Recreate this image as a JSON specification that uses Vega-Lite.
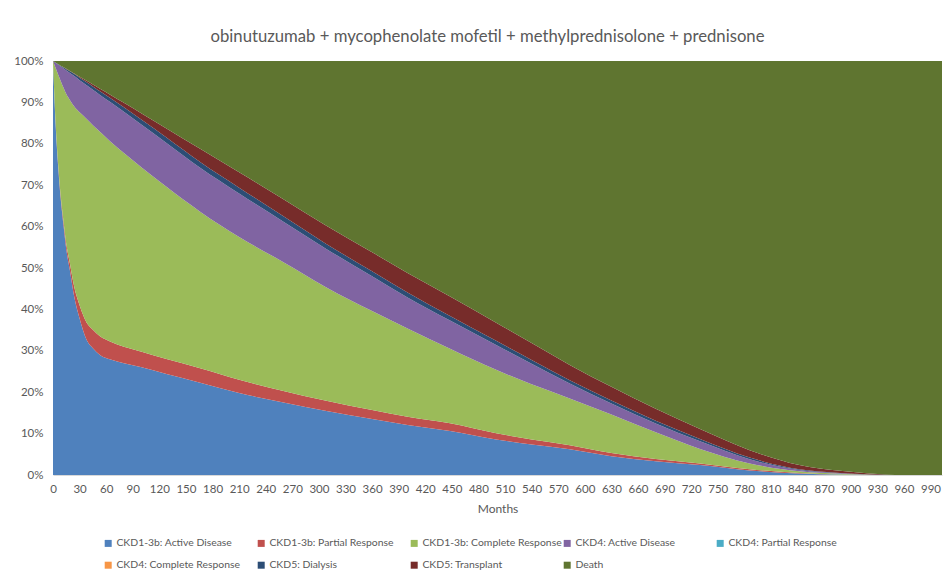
{
  "$schema": "https://vega.github.io/schema/vega-lite/v6.json",
  "width": 889,
  "height": 414,
  "autosize": "none",
  "padding": {"left": 53, "top": 61, "right": 10, "bottom": 99},
  "background": "white",
  "title": {
    "text": "obinutuzumab + mycophenolate mofetil + methylprednisolone + prednisone",
    "font": "Lato",
    "fontSize": 16.7,
    "fontWeight": "normal",
    "color": "#595959",
    "anchor": "middle",
    "dx": -10,
    "offset": 9
  },
  "config": {
    "view": {"stroke": null},
    "axis": {
      "labelFont": "Lato",
      "labelFontSize": 11.5,
      "labelColor": "#595959",
      "titleFont": "Lato",
      "titleFontSize": 12,
      "titleFontWeight": "normal",
      "titleColor": "#595959",
      "grid": false,
      "ticks": false
    },
    "legend": {
      "labelFont": "Lato",
      "labelFontSize": 10.4,
      "labelColor": "#595959"
    }
  },
  "data": {
    "values": [
      {"month": 0, "state": "CKD1-3b: Active Disease", "share": 100},
      {"month": 0, "state": "CKD1-3b: Partial Response", "share": 0},
      {"month": 0, "state": "CKD1-3b: Complete Response", "share": 0},
      {"month": 0, "state": "CKD4: Active Disease", "share": 0},
      {"month": 0, "state": "CKD4: Partial Response", "share": 0},
      {"month": 0, "state": "CKD4: Complete Response", "share": 0},
      {"month": 0, "state": "CKD5: Dialysis", "share": 0},
      {"month": 0, "state": "CKD5: Transplant", "share": 0},
      {"month": 0, "state": "Death", "share": 0},

      {"month": 3, "state": "CKD1-3b: Active Disease", "share": 84.5},
      {"month": 3, "state": "CKD1-3b: Partial Response", "share": 0.3},
      {"month": 3, "state": "CKD1-3b: Complete Response", "share": 13.5},
      {"month": 3, "state": "CKD4: Active Disease", "share": 1.25},
      {"month": 3, "state": "CKD4: Partial Response", "share": 0},
      {"month": 3, "state": "CKD4: Complete Response", "share": 0},
      {"month": 3, "state": "CKD5: Dialysis", "share": 0.05},
      {"month": 3, "state": "CKD5: Transplant", "share": 0},
      {"month": 3, "state": "Death", "share": 0.4},

      {"month": 6, "state": "CKD1-3b: Active Disease", "share": 74},
      {"month": 6, "state": "CKD1-3b: Partial Response", "share": 0.5},
      {"month": 6, "state": "CKD1-3b: Complete Response", "share": 22.1},
      {"month": 6, "state": "CKD4: Active Disease", "share": 2.5},
      {"month": 6, "state": "CKD4: Partial Response", "share": 0},
      {"month": 6, "state": "CKD4: Complete Response", "share": 0},
      {"month": 6, "state": "CKD5: Dialysis", "share": 0.1},
      {"month": 6, "state": "CKD5: Transplant", "share": 0},
      {"month": 6, "state": "Death", "share": 0.8},

      {"month": 9, "state": "CKD1-3b: Active Disease", "share": 66},
      {"month": 9, "state": "CKD1-3b: Partial Response", "share": 0.7},
      {"month": 9, "state": "CKD1-3b: Complete Response", "share": 28.3},
      {"month": 9, "state": "CKD4: Active Disease", "share": 3.6},
      {"month": 9, "state": "CKD4: Partial Response", "share": 0},
      {"month": 9, "state": "CKD4: Complete Response", "share": 0},
      {"month": 9, "state": "CKD5: Dialysis", "share": 0.18},
      {"month": 9, "state": "CKD5: Transplant", "share": 0.02},
      {"month": 9, "state": "Death", "share": 1.2},

      {"month": 12, "state": "CKD1-3b: Active Disease", "share": 60},
      {"month": 12, "state": "CKD1-3b: Partial Response", "share": 1.0},
      {"month": 12, "state": "CKD1-3b: Complete Response", "share": 32.5},
      {"month": 12, "state": "CKD4: Active Disease", "share": 4.7},
      {"month": 12, "state": "CKD4: Partial Response", "share": 0},
      {"month": 12, "state": "CKD4: Complete Response", "share": 0},
      {"month": 12, "state": "CKD5: Dialysis", "share": 0.25},
      {"month": 12, "state": "CKD5: Transplant", "share": 0.05},
      {"month": 12, "state": "Death", "share": 1.5},

      {"month": 15, "state": "CKD1-3b: Active Disease", "share": 54.5},
      {"month": 15, "state": "CKD1-3b: Partial Response", "share": 1.3},
      {"month": 15, "state": "CKD1-3b: Complete Response", "share": 36.2},
      {"month": 15, "state": "CKD4: Active Disease", "share": 5.7},
      {"month": 15, "state": "CKD4: Partial Response", "share": 0},
      {"month": 15, "state": "CKD4: Complete Response", "share": 0},
      {"month": 15, "state": "CKD5: Dialysis", "share": 0.33},
      {"month": 15, "state": "CKD5: Transplant", "share": 0.07},
      {"month": 15, "state": "Death", "share": 1.9},

      {"month": 19, "state": "CKD1-3b: Active Disease", "share": 49.5},
      {"month": 19, "state": "CKD1-3b: Partial Response", "share": 1.7},
      {"month": 19, "state": "CKD1-3b: Complete Response", "share": 39.4},
      {"month": 19, "state": "CKD4: Active Disease", "share": 6.5},
      {"month": 19, "state": "CKD4: Partial Response", "share": 0},
      {"month": 19, "state": "CKD4: Complete Response", "share": 0},
      {"month": 19, "state": "CKD5: Dialysis", "share": 0.4},
      {"month": 19, "state": "CKD5: Transplant", "share": 0.1},
      {"month": 19, "state": "Death", "share": 2.4},

      {"month": 24, "state": "CKD1-3b: Active Disease", "share": 43},
      {"month": 24, "state": "CKD1-3b: Partial Response", "share": 2.4},
      {"month": 24, "state": "CKD1-3b: Complete Response", "share": 43.6},
      {"month": 24, "state": "CKD4: Active Disease", "share": 7.35},
      {"month": 24, "state": "CKD4: Partial Response", "share": 0},
      {"month": 24, "state": "CKD4: Complete Response", "share": 0},
      {"month": 24, "state": "CKD5: Dialysis", "share": 0.5},
      {"month": 24, "state": "CKD5: Transplant", "share": 0.15},
      {"month": 24, "state": "Death", "share": 3.0},

      {"month": 30, "state": "CKD1-3b: Active Disease", "share": 37.8},
      {"month": 30, "state": "CKD1-3b: Partial Response", "share": 3.2},
      {"month": 30, "state": "CKD1-3b: Complete Response", "share": 46.6},
      {"month": 30, "state": "CKD4: Active Disease", "share": 7.75},
      {"month": 30, "state": "CKD4: Partial Response", "share": 0},
      {"month": 30, "state": "CKD4: Complete Response", "share": 0},
      {"month": 30, "state": "CKD5: Dialysis", "share": 0.6},
      {"month": 30, "state": "CKD5: Transplant", "share": 0.25},
      {"month": 30, "state": "Death", "share": 3.8},

      {"month": 38, "state": "CKD1-3b: Active Disease", "share": 32.6},
      {"month": 38, "state": "CKD1-3b: Partial Response", "share": 4.2},
      {"month": 38, "state": "CKD1-3b: Complete Response", "share": 49.2},
      {"month": 38, "state": "CKD4: Active Disease", "share": 8.15},
      {"month": 38, "state": "CKD4: Partial Response", "share": 0},
      {"month": 38, "state": "CKD4: Complete Response", "share": 0},
      {"month": 38, "state": "CKD5: Dialysis", "share": 0.7},
      {"month": 38, "state": "CKD5: Transplant", "share": 0.35},
      {"month": 38, "state": "Death", "share": 4.8},

      {"month": 45, "state": "CKD1-3b: Active Disease", "share": 30.6},
      {"month": 45, "state": "CKD1-3b: Partial Response", "share": 4.5},
      {"month": 45, "state": "CKD1-3b: Complete Response", "share": 49.4},
      {"month": 45, "state": "CKD4: Active Disease", "share": 8.55},
      {"month": 45, "state": "CKD4: Partial Response", "share": 0},
      {"month": 45, "state": "CKD4: Complete Response", "share": 0},
      {"month": 45, "state": "CKD5: Dialysis", "share": 0.8},
      {"month": 45, "state": "CKD5: Transplant", "share": 0.45},
      {"month": 45, "state": "Death", "share": 5.7},

      {"month": 53, "state": "CKD1-3b: Active Disease", "share": 29.0},
      {"month": 53, "state": "CKD1-3b: Partial Response", "share": 4.5},
      {"month": 53, "state": "CKD1-3b: Complete Response", "share": 49.4},
      {"month": 53, "state": "CKD4: Active Disease", "share": 8.9},
      {"month": 53, "state": "CKD4: Partial Response", "share": 0},
      {"month": 53, "state": "CKD4: Complete Response", "share": 0},
      {"month": 53, "state": "CKD5: Dialysis", "share": 0.9},
      {"month": 53, "state": "CKD5: Transplant", "share": 0.6},
      {"month": 53, "state": "Death", "share": 6.7},

      {"month": 65, "state": "CKD1-3b: Active Disease", "share": 27.9},
      {"month": 65, "state": "CKD1-3b: Partial Response", "share": 4.3},
      {"month": 65, "state": "CKD1-3b: Complete Response", "share": 48.3},
      {"month": 65, "state": "CKD4: Active Disease", "share": 9.52},
      {"month": 65, "state": "CKD4: Partial Response", "share": 0},
      {"month": 65, "state": "CKD4: Complete Response", "share": 0},
      {"month": 65, "state": "CKD5: Dialysis", "share": 0.98},
      {"month": 65, "state": "CKD5: Transplant", "share": 0.8},
      {"month": 65, "state": "Death", "share": 8.2},

      {"month": 80, "state": "CKD1-3b: Active Disease", "share": 27.0},
      {"month": 80, "state": "CKD1-3b: Partial Response", "share": 4.0},
      {"month": 80, "state": "CKD1-3b: Complete Response", "share": 46.8},
      {"month": 80, "state": "CKD4: Active Disease", "share": 9.92},
      {"month": 80, "state": "CKD4: Partial Response", "share": 0},
      {"month": 80, "state": "CKD4: Complete Response", "share": 0},
      {"month": 80, "state": "CKD5: Dialysis", "share": 1.08},
      {"month": 80, "state": "CKD5: Transplant", "share": 1.1},
      {"month": 80, "state": "Death", "share": 10.1},

      {"month": 100, "state": "CKD1-3b: Active Disease", "share": 26.0},
      {"month": 100, "state": "CKD1-3b: Partial Response", "share": 3.8},
      {"month": 100, "state": "CKD1-3b: Complete Response", "share": 44.5},
      {"month": 100, "state": "CKD4: Active Disease", "share": 10.3},
      {"month": 100, "state": "CKD4: Partial Response", "share": 0},
      {"month": 100, "state": "CKD4: Complete Response", "share": 0},
      {"month": 100, "state": "CKD5: Dialysis", "share": 1.2},
      {"month": 100, "state": "CKD5: Transplant", "share": 1.5},
      {"month": 100, "state": "Death", "share": 12.7},

      {"month": 128, "state": "CKD1-3b: Active Disease", "share": 24.4},
      {"month": 128, "state": "CKD1-3b: Partial Response", "share": 3.6},
      {"month": 128, "state": "CKD1-3b: Complete Response", "share": 41.6},
      {"month": 128, "state": "CKD4: Active Disease", "share": 10.6},
      {"month": 128, "state": "CKD4: Partial Response", "share": 0},
      {"month": 128, "state": "CKD4: Complete Response", "share": 0},
      {"month": 128, "state": "CKD5: Dialysis", "share": 1.3},
      {"month": 128, "state": "CKD5: Transplant", "share": 2.2},
      {"month": 128, "state": "Death", "share": 16.3},

      {"month": 166, "state": "CKD1-3b: Active Disease", "share": 22.3},
      {"month": 166, "state": "CKD1-3b: Partial Response", "share": 3.5},
      {"month": 166, "state": "CKD1-3b: Complete Response", "share": 37.8},
      {"month": 166, "state": "CKD4: Active Disease", "share": 10.6},
      {"month": 166, "state": "CKD4: Partial Response", "share": 0},
      {"month": 166, "state": "CKD4: Complete Response", "share": 0},
      {"month": 166, "state": "CKD5: Dialysis", "share": 1.4},
      {"month": 166, "state": "CKD5: Transplant", "share": 3.2},
      {"month": 166, "state": "Death", "share": 21.2},

      {"month": 210, "state": "CKD1-3b: Active Disease", "share": 19.8},
      {"month": 210, "state": "CKD1-3b: Partial Response", "share": 3.2},
      {"month": 210, "state": "CKD1-3b: Complete Response", "share": 34.5},
      {"month": 210, "state": "CKD4: Active Disease", "share": 10.5},
      {"month": 210, "state": "CKD4: Partial Response", "share": 0},
      {"month": 210, "state": "CKD4: Complete Response", "share": 0},
      {"month": 210, "state": "CKD5: Dialysis", "share": 1.4},
      {"month": 210, "state": "CKD5: Transplant", "share": 3.7},
      {"month": 210, "state": "Death", "share": 26.9},

      {"month": 260, "state": "CKD1-3b: Active Disease", "share": 17.5},
      {"month": 260, "state": "CKD1-3b: Partial Response", "share": 2.8},
      {"month": 260, "state": "CKD1-3b: Complete Response", "share": 31.1},
      {"month": 260, "state": "CKD4: Active Disease", "share": 9.8},
      {"month": 260, "state": "CKD4: Partial Response", "share": 0},
      {"month": 260, "state": "CKD4: Complete Response", "share": 0},
      {"month": 260, "state": "CKD5: Dialysis", "share": 1.3},
      {"month": 260, "state": "CKD5: Transplant", "share": 4.1},
      {"month": 260, "state": "Death", "share": 33.4},

      {"month": 307, "state": "CKD1-3b: Active Disease", "share": 15.5},
      {"month": 307, "state": "CKD1-3b: Partial Response", "share": 2.5},
      {"month": 307, "state": "CKD1-3b: Complete Response", "share": 27.5},
      {"month": 307, "state": "CKD4: Active Disease", "share": 9.3},
      {"month": 307, "state": "CKD4: Partial Response", "share": 0},
      {"month": 307, "state": "CKD4: Complete Response", "share": 0},
      {"month": 307, "state": "CKD5: Dialysis", "share": 1.2},
      {"month": 307, "state": "CKD5: Transplant", "share": 4.4},
      {"month": 307, "state": "Death", "share": 39.6},

      {"month": 360, "state": "CKD1-3b: Active Disease", "share": 13.5},
      {"month": 360, "state": "CKD1-3b: Partial Response", "share": 2.2},
      {"month": 360, "state": "CKD1-3b: Complete Response", "share": 23.9},
      {"month": 360, "state": "CKD4: Active Disease", "share": 8.4},
      {"month": 360, "state": "CKD4: Partial Response", "share": 0},
      {"month": 360, "state": "CKD4: Complete Response", "share": 0},
      {"month": 360, "state": "CKD5: Dialysis", "share": 1.2},
      {"month": 360, "state": "CKD5: Transplant", "share": 4.6},
      {"month": 360, "state": "Death", "share": 46.2},

      {"month": 400, "state": "CKD1-3b: Active Disease", "share": 12.1},
      {"month": 400, "state": "CKD1-3b: Partial Response", "share": 2.0},
      {"month": 400, "state": "CKD1-3b: Complete Response", "share": 21.3},
      {"month": 400, "state": "CKD4: Active Disease", "share": 7.5},
      {"month": 400, "state": "CKD4: Partial Response", "share": 0},
      {"month": 400, "state": "CKD4: Complete Response", "share": 0},
      {"month": 400, "state": "CKD5: Dialysis", "share": 1.2},
      {"month": 400, "state": "CKD5: Transplant", "share": 4.7},
      {"month": 400, "state": "Death", "share": 51.2},

      {"month": 448, "state": "CKD1-3b: Active Disease", "share": 10.65},
      {"month": 448, "state": "CKD1-3b: Partial Response", "share": 1.85},
      {"month": 448, "state": "CKD1-3b: Complete Response", "share": 18.0},
      {"month": 448, "state": "CKD4: Active Disease", "share": 6.8},
      {"month": 448, "state": "CKD4: Partial Response", "share": 0},
      {"month": 448, "state": "CKD4: Complete Response", "share": 0},
      {"month": 448, "state": "CKD5: Dialysis", "share": 1.1},
      {"month": 448, "state": "CKD5: Transplant", "share": 4.7},
      {"month": 448, "state": "Death", "share": 56.9},

      {"month": 500, "state": "CKD1-3b: Active Disease", "share": 8.6},
      {"month": 500, "state": "CKD1-3b: Partial Response", "share": 1.5},
      {"month": 500, "state": "CKD1-3b: Complete Response", "share": 15.3},
      {"month": 500, "state": "CKD4: Active Disease", "share": 6.0},
      {"month": 500, "state": "CKD4: Partial Response", "share": 0},
      {"month": 500, "state": "CKD4: Complete Response", "share": 0},
      {"month": 500, "state": "CKD5: Dialysis", "share": 1.0},
      {"month": 500, "state": "CKD5: Transplant", "share": 4.4},
      {"month": 500, "state": "Death", "share": 63.2},

      {"month": 540, "state": "CKD1-3b: Active Disease", "share": 7.35},
      {"month": 540, "state": "CKD1-3b: Partial Response", "share": 1.25},
      {"month": 540, "state": "CKD1-3b: Complete Response", "share": 13.3},
      {"month": 540, "state": "CKD4: Active Disease", "share": 5.0},
      {"month": 540, "state": "CKD4: Partial Response", "share": 0},
      {"month": 540, "state": "CKD4: Complete Response", "share": 0},
      {"month": 540, "state": "CKD5: Dialysis", "share": 0.9},
      {"month": 540, "state": "CKD5: Transplant", "share": 4.1},
      {"month": 540, "state": "Death", "share": 68.1},

      {"month": 583, "state": "CKD1-3b: Active Disease", "share": 6.2},
      {"month": 583, "state": "CKD1-3b: Partial Response", "share": 1.0},
      {"month": 583, "state": "CKD1-3b: Complete Response", "share": 11.3},
      {"month": 583, "state": "CKD4: Active Disease", "share": 3.6},
      {"month": 583, "state": "CKD4: Partial Response", "share": 0},
      {"month": 583, "state": "CKD4: Complete Response", "share": 0},
      {"month": 583, "state": "CKD5: Dialysis", "share": 0.8},
      {"month": 583, "state": "CKD5: Transplant", "share": 3.7},
      {"month": 583, "state": "Death", "share": 73.4},

      {"month": 630, "state": "CKD1-3b: Active Disease", "share": 4.55},
      {"month": 630, "state": "CKD1-3b: Partial Response", "share": 0.75},
      {"month": 630, "state": "CKD1-3b: Complete Response", "share": 9.3},
      {"month": 630, "state": "CKD4: Active Disease", "share": 2.65},
      {"month": 630, "state": "CKD4: Partial Response", "share": 0},
      {"month": 630, "state": "CKD4: Complete Response", "share": 0},
      {"month": 630, "state": "CKD5: Dialysis", "share": 0.75},
      {"month": 630, "state": "CKD5: Transplant", "share": 3.3},
      {"month": 630, "state": "Death", "share": 78.7},

      {"month": 680, "state": "CKD1-3b: Active Disease", "share": 3.32},
      {"month": 680, "state": "CKD1-3b: Partial Response", "share": 0.55},
      {"month": 680, "state": "CKD1-3b: Complete Response", "share": 6.43},
      {"month": 680, "state": "CKD4: Active Disease", "share": 2.15},
      {"month": 680, "state": "CKD4: Partial Response", "share": 0},
      {"month": 680, "state": "CKD4: Complete Response", "share": 0},
      {"month": 680, "state": "CKD5: Dialysis", "share": 0.65},
      {"month": 680, "state": "CKD5: Transplant", "share": 2.9},
      {"month": 680, "state": "Death", "share": 84.0},

      {"month": 730, "state": "CKD1-3b: Active Disease", "share": 2.4},
      {"month": 730, "state": "CKD1-3b: Partial Response", "share": 0.4},
      {"month": 730, "state": "CKD1-3b: Complete Response", "share": 3.5},
      {"month": 730, "state": "CKD4: Active Disease", "share": 1.85},
      {"month": 730, "state": "CKD4: Partial Response", "share": 0},
      {"month": 730, "state": "CKD4: Complete Response", "share": 0},
      {"month": 730, "state": "CKD5: Dialysis", "share": 0.55},
      {"month": 730, "state": "CKD5: Transplant", "share": 2.4},
      {"month": 730, "state": "Death", "share": 88.9},

      {"month": 786, "state": "CKD1-3b: Active Disease", "share": 1.1},
      {"month": 786, "state": "CKD1-3b: Partial Response", "share": 0.3},
      {"month": 786, "state": "CKD1-3b: Complete Response", "share": 1.4},
      {"month": 786, "state": "CKD4: Active Disease", "share": 1.0},
      {"month": 786, "state": "CKD4: Partial Response", "share": 0},
      {"month": 786, "state": "CKD4: Complete Response", "share": 0},
      {"month": 786, "state": "CKD5: Dialysis", "share": 0.4},
      {"month": 786, "state": "CKD5: Transplant", "share": 1.8},
      {"month": 786, "state": "Death", "share": 94.0},

      {"month": 842, "state": "CKD1-3b: Active Disease", "share": 0.35},
      {"month": 842, "state": "CKD1-3b: Partial Response", "share": 0.15},
      {"month": 842, "state": "CKD1-3b: Complete Response", "share": 0.4},
      {"month": 842, "state": "CKD4: Active Disease", "share": 0.3},
      {"month": 842, "state": "CKD4: Partial Response", "share": 0},
      {"month": 842, "state": "CKD4: Complete Response", "share": 0},
      {"month": 842, "state": "CKD5: Dialysis", "share": 0.2},
      {"month": 842, "state": "CKD5: Transplant", "share": 1.0},
      {"month": 842, "state": "Death", "share": 97.6},

      {"month": 888, "state": "CKD1-3b: Active Disease", "share": 0.1},
      {"month": 888, "state": "CKD1-3b: Partial Response", "share": 0.05},
      {"month": 888, "state": "CKD1-3b: Complete Response", "share": 0.15},
      {"month": 888, "state": "CKD4: Active Disease", "share": 0.1},
      {"month": 888, "state": "CKD4: Partial Response", "share": 0},
      {"month": 888, "state": "CKD4: Complete Response", "share": 0},
      {"month": 888, "state": "CKD5: Dialysis", "share": 0.1},
      {"month": 888, "state": "CKD5: Transplant", "share": 0.5},
      {"month": 888, "state": "Death", "share": 99.0},

      {"month": 918, "state": "CKD1-3b: Active Disease", "share": 0.03},
      {"month": 918, "state": "CKD1-3b: Partial Response", "share": 0.02},
      {"month": 918, "state": "CKD1-3b: Complete Response", "share": 0.05},
      {"month": 918, "state": "CKD4: Active Disease", "share": 0.05},
      {"month": 918, "state": "CKD4: Partial Response", "share": 0},
      {"month": 918, "state": "CKD4: Complete Response", "share": 0},
      {"month": 918, "state": "CKD5: Dialysis", "share": 0.05},
      {"month": 918, "state": "CKD5: Transplant", "share": 0.2},
      {"month": 918, "state": "Death", "share": 99.6},

      {"month": 950, "state": "CKD1-3b: Active Disease", "share": 0},
      {"month": 950, "state": "CKD1-3b: Partial Response", "share": 0},
      {"month": 950, "state": "CKD1-3b: Complete Response", "share": 0},
      {"month": 950, "state": "CKD4: Active Disease", "share": 0},
      {"month": 950, "state": "CKD4: Partial Response", "share": 0},
      {"month": 950, "state": "CKD4: Complete Response", "share": 0},
      {"month": 950, "state": "CKD5: Dialysis", "share": 0},
      {"month": 950, "state": "CKD5: Transplant", "share": 0},
      {"month": 950, "state": "Death", "share": 100},

      {"month": 1003, "state": "CKD1-3b: Active Disease", "share": 0},
      {"month": 1003, "state": "CKD1-3b: Partial Response", "share": 0},
      {"month": 1003, "state": "CKD1-3b: Complete Response", "share": 0},
      {"month": 1003, "state": "CKD4: Active Disease", "share": 0},
      {"month": 1003, "state": "CKD4: Partial Response", "share": 0},
      {"month": 1003, "state": "CKD4: Complete Response", "share": 0},
      {"month": 1003, "state": "CKD5: Dialysis", "share": 0},
      {"month": 1003, "state": "CKD5: Transplant", "share": 0},
      {"month": 1003, "state": "Death", "share": 100}
    ]
  },
  "transform": [
    {
      "calculate": "indexof(['CKD1-3b: Active Disease', 'CKD1-3b: Partial Response', 'CKD1-3b: Complete Response', 'CKD4: Active Disease', 'CKD4: Partial Response', 'CKD4: Complete Response', 'CKD5: Dialysis', 'CKD5: Transplant', 'Death'], datum.state)",
      "as": "layer_rank"
    }
  ],
  "mark": {"type": "area", "interpolate": "monotone"},
  "encoding": {
    "x": {
      "field": "month",
      "type": "quantitative",
      "title": "Months",
      "scale": {"domain": [0, 1003], "nice": false, "zero": false},
      "axis": {
        "values": [0, 30, 60, 90, 120, 150, 180, 210, 240, 270, 300, 330, 360, 390, 420, 450, 480, 510, 540, 570, 600, 630, 660, 690, 720, 750, 780, 810, 840, 870, 900, 930, 960, 990],
        "domain": true,
        "domainColor": "#D9D9D9",
        "labelPadding": 8,
        "titlePadding": 9,
        "labelFlush": false
      }
    },
    "y": {
      "field": "share",
      "type": "quantitative",
      "stack": "zero",
      "title": null,
      "scale": {"domain": [0, 100], "nice": false},
      "axis": {
        "values": [0, 10, 20, 30, 40, 50, 60, 70, 80, 90, 100],
        "labelExpr": "datum.value + '%'",
        "domain": false,
        "labelPadding": 10
      }
    },
    "order": {"field": "layer_rank", "type": "quantitative", "sort": "ascending"},
    "color": {
      "field": "state",
      "type": "nominal",
      "title": null,
      "scale": {
        "domain": ["CKD1-3b: Active Disease", "CKD1-3b: Partial Response", "CKD1-3b: Complete Response", "CKD4: Active Disease", "CKD4: Partial Response", "CKD4: Complete Response", "CKD5: Dialysis", "CKD5: Transplant", "Death"],
        "range": ["#4F81BD", "#C0504D", "#9BBB59", "#8064A2", "#4BACC6", "#F79646", "#2C4D75", "#772C2A", "#5F7530"]
      },
      "legend": {
        "orient": "none",
        "legendX": 50,
        "legendY": 477,
        "direction": "horizontal",
        "columns": 5,
        "gridAlign": "all",
        "columnPadding": 0,
        "rowPadding": 11,
        "symbolType": "square",
        "symbolSize": 49,
        "symbolStrokeWidth": 0,
        "labelOffset": 3,
        "labelLimit": 200
      }
    }
  }
}
